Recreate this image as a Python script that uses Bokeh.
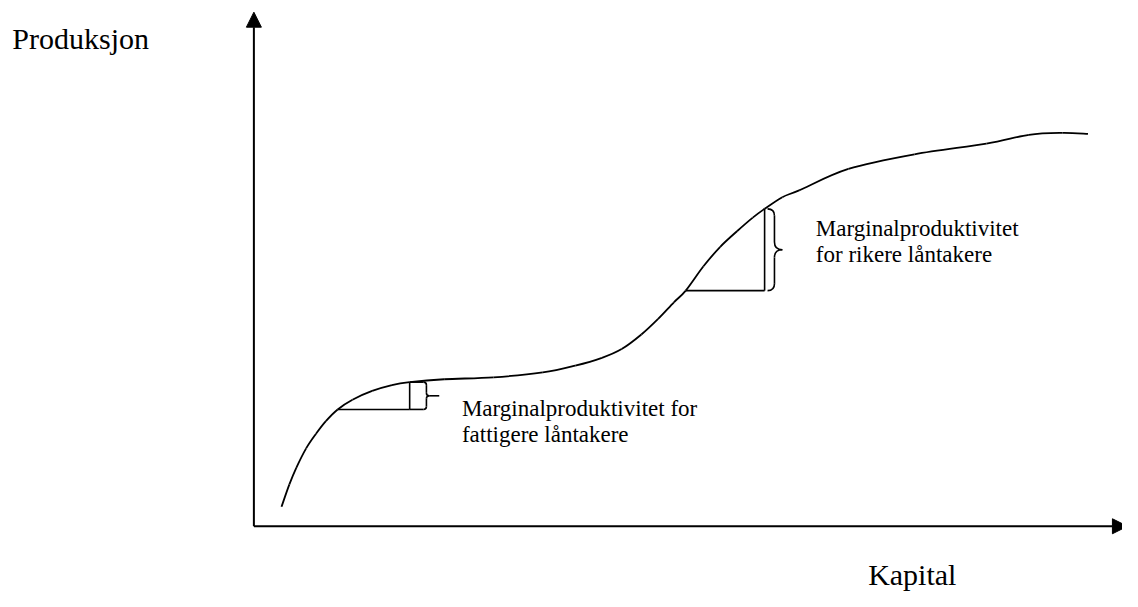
from bokeh.plotting import figure
from bokeh.models import Range1d, Arrow, NormalHead
from bokeh.core.properties import value
from bokeh.embed import file_html
from bokeh.resources import INLINE

# ---- data (capital, production) ----
kapital = [2.8, 3.6, 4.3, 5.3, 6.3, 7.3, 8.5, 10.0, 12.0, 14.0, 15.8, 19.3, 24.3,
           29.3, 32.6, 35.3, 37.3, 39.3, 41.0, 42.6, 43.8, 45.6, 47.3, 49.0, 50.6,
           51.8, 53.6, 55.3, 60.3, 67.0, 74.3, 78.6, 82.0, 84.6]
produksjon = [2.0, 4.3, 6.0, 8.0, 9.5, 10.8, 12.0, 13.0, 13.9, 14.5, 14.8, 15.1, 15.3,
              15.8, 16.5, 17.3, 18.2, 19.7, 21.3, 23.0, 24.2, 26.7, 28.7, 30.3, 31.7,
              32.6, 33.8, 34.5, 36.7, 38.2, 39.3, 40.2, 40.4, 40.3]

# marginal steps: [k_start, k_end], [f_start, f_end]
poor_k = [8.5, 15.8]
poor_f = [12.0, 14.8]
rich_k = [43.8, 51.8]
rich_f = [24.2, 32.6]

y_label = "Produksjon"
x_label = "Kapital"
poor_text = ["Marginalproduktivitet for", "fattigere  låntakere"]
rich_text = ["Marginalproduktivitet", "for rikere låntakere"]

FONT = value("Liberation Serif")

p = figure(width=1122, height=591, output_backend="svg", toolbar_location=None,
           x_range=Range1d(-25.7, 88.1), y_range=Range1d(-6.7, 54.0),
           x_axis_type=None, y_axis_type=None, min_border=0)
p.grid.visible = False
p.outline_line_color = None
p.background_fill_color = "white"
p.border_fill_color = "white"

# axes with arrow heads
p.add_layout(Arrow(end=NormalHead(size=15, fill_color="black", line_color="black"),
                   x_start=0, y_start=0, x_end=0, y_end=52.8,
                   line_width=2, line_color="black"))
p.add_layout(Arrow(end=NormalHead(size=15, fill_color="black", line_color="black"),
                   x_start=0, y_start=0, x_end=88.6, y_end=0,
                   line_width=2, line_color="black"))

# production curve: smooth (Catmull-Rom style) curve through the read points
n = len(kapital)
bx0, by0, bx1, by1, c0x, c0y, c1x, c1y = [], [], [], [], [], [], [], []
for i in range(n - 1):
    a = max(i - 1, 0)
    d = min(i + 2, n - 1)
    bx0.append(kapital[i]); by0.append(produksjon[i])
    bx1.append(kapital[i + 1]); by1.append(produksjon[i + 1])
    c0x.append(kapital[i] + (kapital[i + 1] - kapital[a]) / 6)
    c0y.append(produksjon[i] + (produksjon[i + 1] - produksjon[a]) / 6)
    c1x.append(kapital[i + 1] - (kapital[d] - kapital[i]) / 6)
    c1y.append(produksjon[i + 1] - (produksjon[d] - produksjon[i]) / 6)
p.bezier(x0=bx0, y0=by0, x1=bx1, y1=by1, cx0=c0x, cy0=c0y, cx1=c1x, cy1=c1y,
         line_width=1.8, line_color="black")

# step triangles
for ks, fs in [(poor_k, poor_f), (rich_k, rich_f)]:
    p.segment(x0=[ks[0], ks[1]], y0=[fs[0], fs[0]], x1=[ks[1], ks[1]], y1=[fs[0], fs[1]],
              line_width=1.6, line_color="black")


def brace(x0, lo, hi, arm, tip, r, rx):
    mid = (lo + hi) / 2
    segs = [(x0, hi, arm - r, hi), (arm, hi - r, arm, mid + rx), (arm + rx, mid, tip, mid),
            (arm, mid - rx, arm, lo + r), (arm - r, lo, x0, lo)]
    quads = [(arm - r, hi, arm, hi, arm, hi - r),
             (arm, mid + rx, arm, mid, arm + rx, mid),
             (arm + rx, mid, arm, mid, arm, mid - rx),
             (arm, lo + r, arm, lo, arm - r, lo)]
    p.segment(x0=[s[0] for s in segs], y0=[s[1] for s in segs],
              x1=[s[2] for s in segs], y1=[s[3] for s in segs],
              line_width=1.6, line_color="black")
    p.quadratic(x0=[q[0] for q in quads], y0=[q[1] for q in quads],
                cx=[q[2] for q in quads], cy=[q[3] for q in quads],
                x1=[q[4] for q in quads], y1=[q[5] for q in quads],
                line_width=1.6, line_color="black")


brace(poor_k[1], poor_f[0], poor_f[1], poor_k[1] + 1.7, poor_k[1] + 3.0, 0.3, 0.3)
brace(rich_k[1] + 0.3, rich_f[0], rich_f[1], rich_k[1] + 1.0, rich_k[1] + 1.8, 0.7, 0.8)

# texts
p.text(x=[-24.5], y=[50.1], text=[y_label], text_font=FONT, text_font_size="30px",
       text_baseline="alphabetic", text_align="left", text_color="black")
p.text(x=[62.3], y=[-5.0], text=[x_label], text_font=FONT, text_font_size="30px",
       text_baseline="alphabetic", text_align="left", text_color="black")
p.text(x=[21.1, 21.1], y=[12.1, 9.4], text=poor_text, text_font=FONT, text_font_size="23px",
       text_baseline="alphabetic", text_align="left", text_color="black")
p.text(x=[57.0, 57.0], y=[30.6, 27.9], text=rich_text, text_font=FONT, text_font_size="23px",
       text_baseline="alphabetic", text_align="left", text_color="black")

open("out.html", "w").write(file_html(p, INLINE))
